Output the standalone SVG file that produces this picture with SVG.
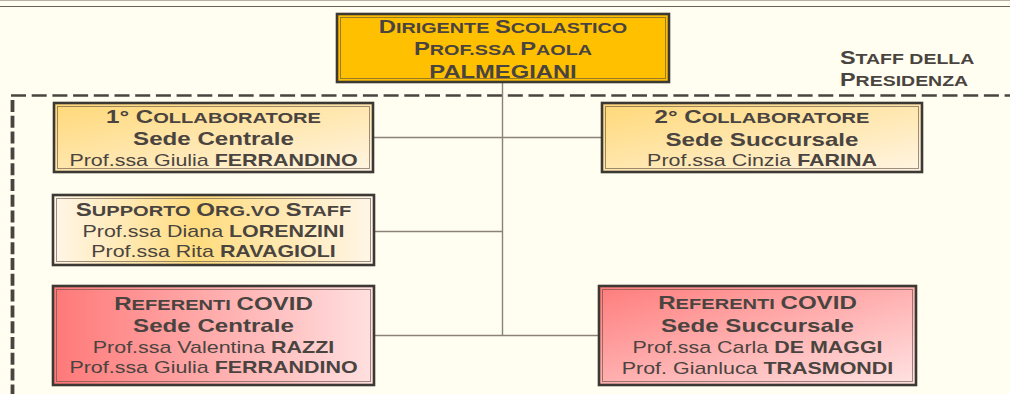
<svg xmlns="http://www.w3.org/2000/svg" width="1010" height="394" viewBox="0 0 1010 394">
<defs>
<linearGradient id="gColl" x1="0" y1="0" x2="1" y2="1"><stop offset="0" stop-color="#FFD877"/><stop offset="1" stop-color="#FFF5E4"/></linearGradient>
<linearGradient id="gSupp" x1="0" y1="0" x2="1" y2="0"><stop offset="0" stop-color="#FFF6E8"/><stop offset="0.45" stop-color="#FFDC7E"/><stop offset="1" stop-color="#FFF6E8"/></linearGradient>
<linearGradient id="gRefC" x1="0" y1="0" x2="1" y2="0"><stop offset="0" stop-color="#FF7878"/><stop offset="1" stop-color="#FFE0E0"/></linearGradient>
<linearGradient id="gRefS" x1="0" y1="0" x2="1" y2="1"><stop offset="0" stop-color="#FF7C7C"/><stop offset="1" stop-color="#FFE3E3"/></linearGradient>
<style>
.box{stroke:#3c3834;stroke-width:2.6}
.inner{fill:none;stroke:#5a4a40;stroke-opacity:0.6;stroke-width:1}
.conn{stroke:#8a8278;stroke-width:1.4;fill:none}
text{font-family:"Liberation Sans",Arial,sans-serif;fill:#4a4440;text-anchor:middle}
.t{font-weight:bold;font-size:18px}
.sc{font-size:15px}
.n{font-size:16px;font-weight:normal}
.nb{font-size:16px;font-weight:bold}
</style>
</defs>
<rect x="0" y="0" width="1010" height="394" fill="#FFFEF1"/>
<line x1="0" y1="0.5" x2="1010" y2="0.5" stroke="#b8b0a2" stroke-width="1"/>
<line x1="0" y1="6.5" x2="1010" y2="6.5" stroke="#6b6258" stroke-width="1.2"/>
<g id="staff-boundary">
<line x1="11" y1="95.5" x2="1010" y2="95.5" stroke="#4a4440" stroke-width="2.7" stroke-dasharray="15 5.7"/>
<line x1="12.5" y1="97" x2="12.5" y2="394" stroke="#4a4440" stroke-width="3.8" stroke-dasharray="12 3.8" stroke-dashoffset="-3"/>
<g transform="translate(840 0) scale(1.3 1)"><text style="text-anchor:start" class="t" y="64"><tspan>S</tspan><tspan class="sc">TAFF DELLA</tspan></text>
<text style="text-anchor:start" class="t" y="86.5"><tspan>P</tspan><tspan class="sc">RESIDENZA</tspan></text></g>
</g>
<g id="connectors">
<line class="conn" x1="502.5" y1="83" x2="502.5" y2="335.5"/>
<line class="conn" x1="374" y1="137.5" x2="602" y2="137.5"/>
<line class="conn" x1="374" y1="231.5" x2="502.5" y2="231.5"/>
<line class="conn" x1="374" y1="335.5" x2="598" y2="335.5"/>
</g>
<g id="dirigente">
<rect class="box" x="337" y="14" width="332" height="68" fill="#FFC000"/>
<rect class="inner" x="340.5" y="17.5" width="325" height="61"/>
<g transform="translate(503 0) scale(1.32 1)">
<text class="t" y="33"><tspan>D</tspan><tspan class="sc">IRIGENTE </tspan><tspan>S</tspan><tspan class="sc">COLASTICO</tspan></text>
<text class="t" y="55"><tspan>P</tspan><tspan class="sc">ROF.SSA </tspan><tspan>P</tspan><tspan class="sc">AOLA</tspan></text>
<text class="t" y="78">PALMEGIANI</text>
</g>
</g>
<g id="collaboratore1">
<rect class="box" x="54" y="103" width="319" height="69" fill="url(#gColl)"/>
<rect class="inner" x="57.5" y="106.5" width="312" height="62"/>
<g transform="translate(213.5 0) scale(1.34 1)">
<text class="t" y="123.5"><tspan>1° C</tspan><tspan class="sc">OLLABORATORE</tspan></text>
<text class="t" y="145.5">Sede Centrale</text>
<text y="166"><tspan class="n">Prof.ssa Giulia </tspan><tspan class="nb">FERRANDINO</tspan></text>
</g>
</g>
<g id="collaboratore2">
<rect class="box" x="602" y="103" width="320" height="69" fill="url(#gColl)"/>
<rect class="inner" x="605.5" y="106.5" width="313" height="62"/>
<g transform="translate(762 0) scale(1.34 1)">
<text class="t" y="123"><tspan>2° C</tspan><tspan class="sc">OLLABORATORE</tspan></text>
<text class="t" y="146">Sede Succursale</text>
<text y="166.5"><tspan class="n">Prof.ssa Cinzia </tspan><tspan class="nb">FARINA</tspan></text>
</g>
</g>
<g id="supporto">
<rect class="box" x="53" y="195" width="321" height="70" fill="url(#gSupp)"/>
<rect class="inner" x="56.5" y="198.5" width="314" height="63"/>
<g transform="translate(213.5 0) scale(1.34 1)">
<text class="t" y="216"><tspan>S</tspan><tspan class="sc">UPPORTO </tspan><tspan>O</tspan><tspan class="sc">RG.VO </tspan><tspan>S</tspan><tspan class="sc">TAFF</tspan></text>
<text y="237.5"><tspan class="n">Prof.ssa Diana </tspan><tspan class="nb">LORENZINI</tspan></text>
<text y="257.5"><tspan class="n">Prof.ssa Rita </tspan><tspan class="nb">RAVAGIOLI</tspan></text>
</g>
</g>
<g id="covid-centrale">
<rect class="box" x="53" y="286" width="321" height="99" fill="url(#gRefC)"/>
<rect class="inner" x="56.5" y="289.5" width="314" height="92"/>
<g transform="translate(213.5 0) scale(1.34 1)">
<text class="t" y="310"><tspan>R</tspan><tspan class="sc">EFERENTI </tspan><tspan>COVID</tspan></text>
<text class="t" y="332.5">Sede Centrale</text>
<text y="353.5"><tspan class="n">Prof.ssa Valentina </tspan><tspan class="nb">RAZZI</tspan></text>
<text y="373.5"><tspan class="n">Prof.ssa Giulia </tspan><tspan class="nb">FERRANDINO</tspan></text>
</g>
</g>
<g id="covid-succursale">
<rect class="box" x="599" y="286" width="317" height="99" fill="url(#gRefS)"/>
<rect class="inner" x="602.5" y="289.5" width="310" height="92"/>
<g transform="translate(757.5 0) scale(1.34 1)">
<text class="t" y="309.5"><tspan>R</tspan><tspan class="sc">EFERENTI </tspan><tspan>COVID</tspan></text>
<text class="t" y="332.5">Sede Succursale</text>
<text y="353.5"><tspan class="n">Prof.ssa Carla </tspan><tspan class="nb">DE MAGGI</tspan></text>
<text y="374"><tspan class="n">Prof. Gianluca </tspan><tspan class="nb">TRASMONDI</tspan></text>
</g>
</g>
</svg>
